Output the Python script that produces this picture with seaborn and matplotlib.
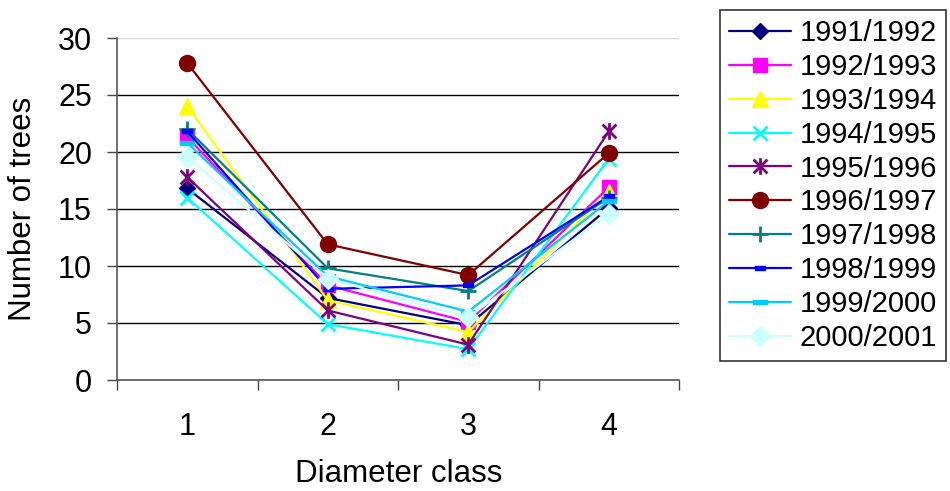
import matplotlib
matplotlib.use("Agg")
import matplotlib.pyplot as plt
from matplotlib.path import Path
from matplotlib.ticker import MultipleLocator, FixedLocator
import numpy as np
import pandas as pd
import seaborn as sns

# Diameter classes on the x axis
classes = [1, 2, 3, 4]

# Number of trees per diameter class, one list per season
seasons = ["1991/1992", "1992/1993", "1993/1994", "1994/1995", "1995/1996",
           "1996/1997", "1997/1998", "1998/1999", "1999/2000", "2000/2001"]
v_1991 = [16.8, 7.2, 4.8, 15.1]
v_1992 = [21.3, 8.3, 5.1, 16.9]
v_1993 = [24.0, 7.0, 4.2, 16.5]
v_1994 = [16.0, 4.9, 2.7, 19.4]
v_1995 = [17.8, 6.1, 3.1, 21.8]
v_1996 = [27.8, 11.9, 9.2, 19.9]
v_1997 = [22.0, 9.8, 7.8, 16.0]
v_1998 = [21.8, 8.0, 8.3, 16.1]
v_1999 = [20.8, 9.1, 6.0, 15.7]
v_2000 = [19.6, 8.9, 5.5, 14.6]
values = [v_1991, v_1992, v_1993, v_1994, v_1995,
          v_1996, v_1997, v_1998, v_1999, v_2000]

y_ticks = [0, 5, 10, 15, 20, 25, 30]

df = pd.DataFrame({
    "season": np.repeat(seasons, len(classes)),
    "diameter": classes * len(seasons),
    "trees": np.concatenate(values),
})

# Custom marker shapes: asterisk (x with a vertical stroke) and short bars
asterisk = Path([(-1, -1), (1, 1), (-1, 1), (1, -1), (0, -1.2), (0, 1.2)],
                [Path.MOVETO, Path.LINETO, Path.MOVETO, Path.LINETO,
                 Path.MOVETO, Path.LINETO])
bar_small = Path([(-1, -0.4), (1, -0.4), (1, 0.4), (-1, 0.4), (-1, -0.4)],
                 [Path.MOVETO, Path.LINETO, Path.LINETO, Path.LINETO, Path.CLOSEPOLY])
bar_wide = Path([(-1, -0.33), (1, -0.33), (1, 0.33), (-1, 0.33), (-1, -0.33)],
                [Path.MOVETO, Path.LINETO, Path.LINETO, Path.LINETO, Path.CLOSEPOLY])

styles = {
    "1991/1992": dict(color="#000080", marker="D", ms=8.5, mew=1),
    "1992/1993": dict(color="#FF00FF", marker="s", ms=10, mew=1),
    "1993/1994": dict(color="#FFFF00", marker="^", ms=12, mew=1),
    "1994/1995": dict(color="#00FFFF", marker="x", ms=10, mew=2),
    "1995/1996": dict(color="#800080", marker=asterisk, ms=12, mew=2),
    "1996/1997": dict(color="#800000", marker="o", ms=11.5, mew=1),
    "1997/1998": dict(color="#008080", marker="+", ms=12, mew=2),
    "1998/1999": dict(color="#0000FF", marker=bar_small, ms=7, mew=1),
    "1999/2000": dict(color="#00CCFF", marker=bar_wide, ms=10, mew=1),
    "2000/2001": dict(color="#CCFFFF", marker="D", ms=10, mew=1),
}

sns.set_theme(style="white")
plt.rcParams["font.family"] = ["Liberation Sans", "DejaVu Sans"]
plt.rcParams["text.color"] = "black"
plt.rcParams["axes.labelcolor"] = "black"
plt.rcParams["xtick.color"] = "black"
plt.rcParams["ytick.color"] = "black"

fig = plt.figure(figsize=(9.5, 4.91), dpi=100)
ax = fig.add_axes([117 / 950, 1 - 380 / 491, 562 / 950, 342 / 491])

for s in seasons:
    st = styles[s]
    sns.lineplot(data=df[df["season"] == s], x="diameter", y="trees",
                 ax=ax, color=st["color"], marker=st["marker"],
                 markersize=st["ms"], markeredgewidth=st["mew"],
                 markeredgecolor=st["color"], markerfacecolor=st["color"],
                 linewidth=1.6, label=s, errorbar=None)

ax.set_xlim(0.5, 4.5)
ax.set_ylim(0, 30)
ax.set_yticks(y_ticks)
ax.xaxis.set_major_locator(FixedLocator(classes))
ax.xaxis.set_minor_locator(MultipleLocator(1, offset=0.5))
ax.tick_params(axis="x", which="major", length=0, labelsize=22, pad=23,
               labelcolor="black")
ax.tick_params(axis="x", which="minor", length=7, width=1, direction="out",
               color="#444444", bottom=True)
ax.tick_params(axis="y", which="major", length=7, width=1, direction="out",
               labelsize=22, pad=11, color="#444444", labelcolor="black",
               left=True)

ax.yaxis.grid(True, color="black", linewidth=1)
ax.set_axisbelow(True)
grid = ax.get_ygridlines()
grid[0].set_visible(False)
grid[-1].set_color("#d9d9d9")

for side in ("top", "right"):
    ax.spines[side].set_visible(False)
for side in ("left", "bottom"):
    ax.spines[side].set_color("#555555")
    ax.spines[side].set_linewidth(1.2)

ax.set_xlabel("Diameter class", fontsize=22.5, color="black")
ax.set_ylabel("Number of trees", fontsize=22.5, color="black")
ax.xaxis.set_label_coords(0.502, -0.232)
ax.yaxis.set_label_coords(-0.14, 0.5)

leg = ax.legend(loc="upper left", bbox_to_anchor=(720 / 950, 1 - 10 / 491),
                bbox_transform=fig.transFigure, borderaxespad=0,
                fontsize=21, frameon=True, fancybox=False,
                edgecolor="black", handlelength=2.1, handletextpad=0.3,
                labelspacing=0.2, borderpad=0.32)
for t in leg.get_texts():
    t.set_color("black")
leg.get_frame().set_linewidth(1.2)

fig.savefig("out.png", dpi=100, facecolor="white")
